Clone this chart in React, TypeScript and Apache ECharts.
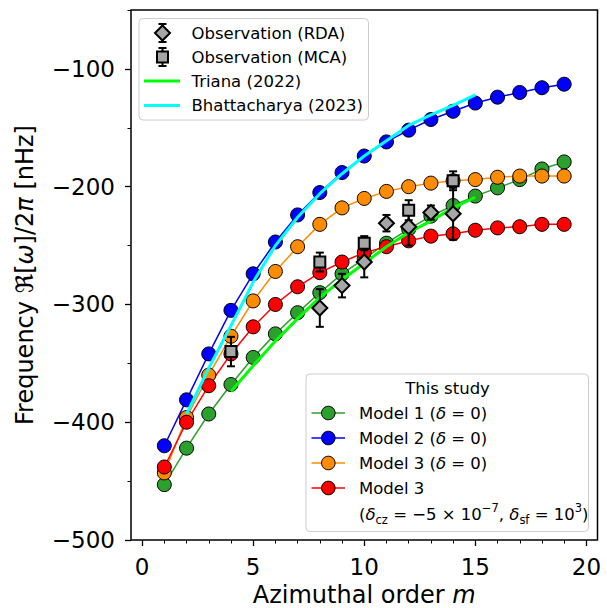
import React, { useEffect, useRef } from "react";
import * as echarts from "echarts";

// Azimuthal orders
const mValues = [1, 2, 3, 4, 5, 6, 7, 8, 9, 10, 11, 12, 13, 14, 15, 16, 17, 18, 19];

// This study (frequencies in nHz)
const model1 = [-453, -422, -393, -368, -345, -325, -307, -290, -274, -261, -248, -236, -225, -216, -208, -201, -194, -185, -179];
const model2 = [-420, -381, -342, -305, -274, -247, -224, -205, -188, -174, -162, -152, -143, -136, -129, -124, -120, -116, -113];
const model3d0 = [-443, -396, -360, -327, -297, -272, -251, -232, -218, -210, -204, -200, -197, -195, -194, -192, -191, -191, -191];
const model3 = [-438, -400, -369, -342, -319, -300, -285, -273, -264, -256, -251, -246, -242, -240, -237, -235, -234, -232, -232];

// Literature curves
const trianaM = [4, 5, 6, 7, 8, 9, 10, 11, 12, 13, 14, 15];
const trianaY = [-374, -352, -331, -312, -294, -279, -265, -251, -239, -229, -218, -209];
const bhattM = [2, 3, 4, 5, 6, 7, 8, 9, 10, 11, 12, 13, 14, 15];
const bhattY = [-393, -354, -318, -281, -250, -226, -206, -189, -174, -161, -148, -139, -131, -122];

// Observations
const rdaM = [8, 9, 10, 11, 12, 13, 14];
const rdaY = [-303, -284, -264, -231, -234, -222, -223];
const rdaErr = [16, 10, 13, 7, 16, 6, 22];
const mcaM = [4, 8, 10, 12, 14];
const mcaY = [-340, -264, -248, -220, -195];
const mcaErr = [12.5, 8, 6, 8.5, 8];

// Ticks
const xMajorTicks = [0, 5, 10, 15, 20];
const xMinorTicks = [0, 1, 2, 3, 4, 5, 6, 7, 8, 9, 10, 11, 12, 13, 14, 15, 16, 17, 18, 19, 20];
const yMajorTicks = [-500, -400, -300, -200, -100];
const yMinorTicks = [-500, -450, -400, -350, -300, -250, -200, -150, -100, -50];

const FONT = "DejaVu Sans";
const LFS = 16.5;
const C_M1 = "#2ca02c";
const C_M2 = "#0000ff";
const C_M3D0 = "#ff8c00";
const C_M3 = "#ff0000";
const C_TRI = "#00ff00";
const C_BHA = "#00ffff";
const C_OBS = "#a6a6a6";

const fmt = (v: number) => (v < 0 ? "\u2212" + Math.abs(v) : String(v));

const errRender = (params: any, api: any) => {
  const x = api.value(0);
  const y = api.value(1);
  const e = api.value(2);
  const top = api.coord([x, y + e]);
  const bot = api.coord([x, y - e]);
  const cw = 4;
  const st = { stroke: "#000", lineWidth: 2 };
  return {
    type: "group",
    children: [
      { type: "line", shape: { x1: top[0], y1: top[1], x2: bot[0], y2: bot[1] }, style: st },
      { type: "line", shape: { x1: top[0] - cw, y1: top[1], x2: top[0] + cw, y2: top[1] }, style: st },
      { type: "line", shape: { x1: bot[0] - cw, y1: bot[1], x2: bot[0] + cw, y2: bot[1] }, style: st },
    ],
  };
};

function modelSeries(name: string, ys: number[], color: string) {
  return {
    name,
    type: "line",
    data: mValues.map((m, i) => [m, ys[i]]),
    symbol: "circle",
    symbolSize: 14,
    z: 2,
    itemStyle: { color, borderColor: "#000", borderWidth: 1 },
    lineStyle: { color, width: 1.5 },
  };
}

const richBase = (fs: number, lh?: number) => ({
  n: { fontFamily: FONT, fontSize: fs, color: "#000", ...(lh ? { lineHeight: lh } : {}) },
  i: { fontFamily: FONT, fontSize: fs, fontStyle: "italic", color: "#000", ...(lh ? { lineHeight: lh } : {}) },
});

function legendGraphics() {
  const els: any[] = [];
  // Legend 1 frame
  els.push({
    type: "rect",
    shape: { x: 139, y: 18.5, width: 229.5, height: 101.5, r: 4 },
    style: { fill: "rgba(255,255,255,0.8)", stroke: "#cccccc", lineWidth: 1 },
    z: 100,
  });
  const ix = 162.5;
  const errIcon = (cy: number) => {
    const st = { stroke: "#000", lineWidth: 2 };
    els.push({ type: "line", shape: { x1: ix, y1: cy - 9, x2: ix, y2: cy + 9 }, style: st, z: 101 });
    els.push({ type: "line", shape: { x1: ix - 4, y1: cy - 9, x2: ix + 4, y2: cy - 9 }, style: st, z: 101 });
    els.push({ type: "line", shape: { x1: ix - 4, y1: cy + 9, x2: ix + 4, y2: cy + 9 }, style: st, z: 101 });
  };
  errIcon(33);
  els.push({
    type: "polygon",
    shape: { points: [[ix, 33 - 7.5], [ix + 7.5, 33], [ix, 33 + 7.5], [ix - 7.5, 33]] },
    style: { fill: C_OBS, stroke: "#000", lineWidth: 2 },
    z: 102,
  });
  errIcon(57);
  els.push({
    type: "rect",
    shape: { x: ix - 5.5, y: 57 - 5.5, width: 11, height: 11 },
    style: { fill: C_OBS, stroke: "#000", lineWidth: 2 },
    z: 102,
  });
  els.push({ type: "line", shape: { x1: 144, y1: 81, x2: 180, y2: 81 }, style: { stroke: C_TRI, lineWidth: 3 }, z: 101 });
  els.push({ type: "line", shape: { x1: 144, y1: 105.5, x2: 180, y2: 105.5 }, style: { stroke: C_BHA, lineWidth: 3 }, z: 101 });
  const l1 = ["Observation (RDA)", "Observation (MCA)", "Triana (2022)", "Bhattacharya (2023)"];
  const l1y = [33, 57, 81, 105.5];
  l1.forEach((t, k) => {
    els.push({
      type: "text",
      x: 191.5,
      y: l1y[k],
      style: { text: t, fontFamily: FONT, fontSize: LFS, fill: "#000", verticalAlign: "middle", align: "left" },
      z: 102,
    });
  });

  // Legend 2 frame
  els.push({
    type: "rect",
    shape: { x: 306, y: 374, width: 282.5, height: 157.5, r: 4 },
    style: { fill: "rgba(255,255,255,0.8)", stroke: "#cccccc", lineWidth: 1 },
    z: 100,
  });
  els.push({
    type: "text",
    x: 447.5,
    y: 388,
    style: { text: "This study", fontFamily: FONT, fontSize: LFS, fill: "#000", align: "center", verticalAlign: "middle" },
    z: 102,
  });
  const cols = [C_M1, C_M2, C_M3D0, C_M3];
  const l2y = [413, 438, 463, 488];
  const rich = {
    ...richBase(LFS),
    sb: { fontFamily: FONT, fontSize: 11.5, color: "#000", verticalAlign: "bottom", lineHeight: 24 },
    sp: { fontFamily: FONT, fontSize: 11.5, color: "#000", verticalAlign: "top", lineHeight: 24 },
  };
  const l2 = [
    "{n|Model 1 (}{i|δ}{n| = 0)}",
    "{n|Model 2 (}{i|δ}{n| = 0)}",
    "{n|Model 3 (}{i|δ}{n| = 0)}",
    "{n|Model 3}",
  ];
  cols.forEach((c, k) => {
    els.push({ type: "line", shape: { x1: 311.5, y1: l2y[k], x2: 345, y2: l2y[k] }, style: { stroke: c, lineWidth: 1.5 }, z: 101 });
    els.push({ type: "circle", shape: { cx: 328.3, cy: l2y[k], r: 6.8 }, style: { fill: c, stroke: "#000", lineWidth: 1 }, z: 102 });
    els.push({
      type: "text",
      x: 359,
      y: l2y[k],
      style: { text: l2[k], rich, fontFamily: FONT, fontSize: LFS, fill: "#000", verticalAlign: "middle", align: "left" },
      z: 102,
    });
  });
  els.push({
    type: "text",
    x: 359,
    y: 514,
    style: {
      text: "{n|(}{i|δ}{sb|cz}{n| = \u22125 × 10}{sp|\u22127}{n|, }{i|δ}{sb|sf}{n| = 10}{sp|3}{n|)}",
      rich,
      fontFamily: FONT,
      fontSize: LFS,
      fill: "#000",
      verticalAlign: "middle",
      align: "left",
    },
    z: 102,
  });
  return els;
}

export default function App() {
  const ref = useRef<HTMLDivElement>(null);
  useEffect(() => {
    if (!ref.current) return;
    const chart = echarts.init(ref.current, undefined, { renderer: "svg" });
    const option: any = {
      animation: false,
      backgroundColor: "#fff",
      grid: {
        left: 131,
        top: 10,
        width: 466.5,
        height: 530,
        show: true,
        borderColor: "#000",
        borderWidth: 1.5,
        backgroundColor: "transparent",
        containLabel: false,
        outerBoundsMode: "none",
      },
      xAxis: [
        {
          type: "value",
          min: -0.5,
          max: 20.5,
          position: "bottom",
          axisLine: { show: false, onZero: false },
          splitLine: { show: false },
          axisTick: { show: true, customValues: xMajorTicks, length: 6, lineStyle: { color: "#000", width: 1.3 } },
          axisLabel: {
            customValues: xMajorTicks,
            formatter: fmt,
            fontFamily: FONT,
            fontSize: 23,
            color: "#000",
            margin: 15,
          },
          name: "{n|Azimuthal order }{i|m}",
          nameLocation: "middle",
          nameGap: 42,
          nameTextStyle: { fontFamily: FONT, fontSize: 24, color: "#000", lineHeight: 22, rich: richBase(24, 22) },
        },
        {
          type: "value",
          min: -0.5,
          max: 20.5,
          position: "bottom",
          offset: 0,
          axisLine: { show: false, onZero: false },
          splitLine: { show: false },
          axisLabel: { show: false },
          axisTick: { show: true, customValues: xMinorTicks, length: 3.5, lineStyle: { color: "#000", width: 1 } },
        },
      ],
      yAxis: [
        {
          type: "value",
          min: -500,
          max: -50,
          position: "left",
          axisLine: { show: false, onZero: false },
          splitLine: { show: false },
          axisTick: { show: true, customValues: yMajorTicks, length: 6, lineStyle: { color: "#000", width: 1.3 } },
          axisLabel: {
            customValues: yMajorTicks,
            formatter: fmt,
            fontFamily: FONT,
            fontSize: 23,
            color: "#000",
            margin: 16,
          },
          name: "{n|Frequency ℜ[}{i|ω}{n|]/2}{i|π}{n| [nHz]}",
          nameLocation: "middle",
          nameRotate: 90,
          nameGap: 94,
          nameTextStyle: { fontFamily: FONT, fontSize: 24, color: "#000", rich: richBase(24) },
        },
        {
          type: "value",
          min: -500,
          max: -50,
          position: "left",
          offset: 0,
          axisLine: { show: false, onZero: false },
          splitLine: { show: false },
          axisLabel: { show: false },
          axisTick: { show: true, customValues: yMinorTicks, length: 3.5, lineStyle: { color: "#000", width: 1 } },
        },
      ],
      series: [
        modelSeries("Model 1 (δ = 0)", model1, C_M1),
        modelSeries("Model 2 (δ = 0)", model2, C_M2),
        modelSeries("Model 3 (δ = 0)", model3d0, C_M3D0),
        modelSeries("Model 3", model3, C_M3),
        {
          name: "Triana (2022)",
          type: "line",
          data: trianaM.map((m, i) => [m, trianaY[i]]),
          showSymbol: false,
          symbol: "none",
          z: 3,
          lineStyle: { color: C_TRI, width: 3 },
        },
        {
          name: "Bhattacharya (2023)",
          type: "line",
          data: bhattM.map((m, i) => [m, bhattY[i]]),
          showSymbol: false,
          symbol: "none",
          z: 3,
          lineStyle: { color: C_BHA, width: 3 },
        },
        {
          name: "RDA err",
          type: "custom",
          renderItem: errRender,
          encode: { x: 0, y: 1 },
          data: rdaM.map((m, i) => [m, rdaY[i], rdaErr[i]]),
          z: 4,
        },
        {
          name: "MCA err",
          type: "custom",
          renderItem: errRender,
          encode: { x: 0, y: 1 },
          data: mcaM.map((m, i) => [m, mcaY[i], mcaErr[i]]),
          z: 4,
        },
        {
          name: "Observation (RDA)",
          type: "scatter",
          symbol: "diamond",
          symbolSize: 15,
          data: rdaM.map((m, i) => [m, rdaY[i]]),
          itemStyle: { color: C_OBS, borderColor: "#000", borderWidth: 2, opacity: 1 },
          z: 5,
        },
        {
          name: "Observation (MCA)",
          type: "scatter",
          symbol: "rect",
          symbolSize: 11,
          data: mcaM.map((m, i) => [m, mcaY[i]]),
          itemStyle: { color: C_OBS, borderColor: "#000", borderWidth: 2, opacity: 1 },
          z: 5,
        },
      ],
      graphic: legendGraphics(),
    };
    chart.setOption(option);
    return () => chart.dispose();
  }, []);
  return <div ref={ref} style={{ width: 607, height: 608, position: "absolute", left: 0, top: 0 }} />;
}
